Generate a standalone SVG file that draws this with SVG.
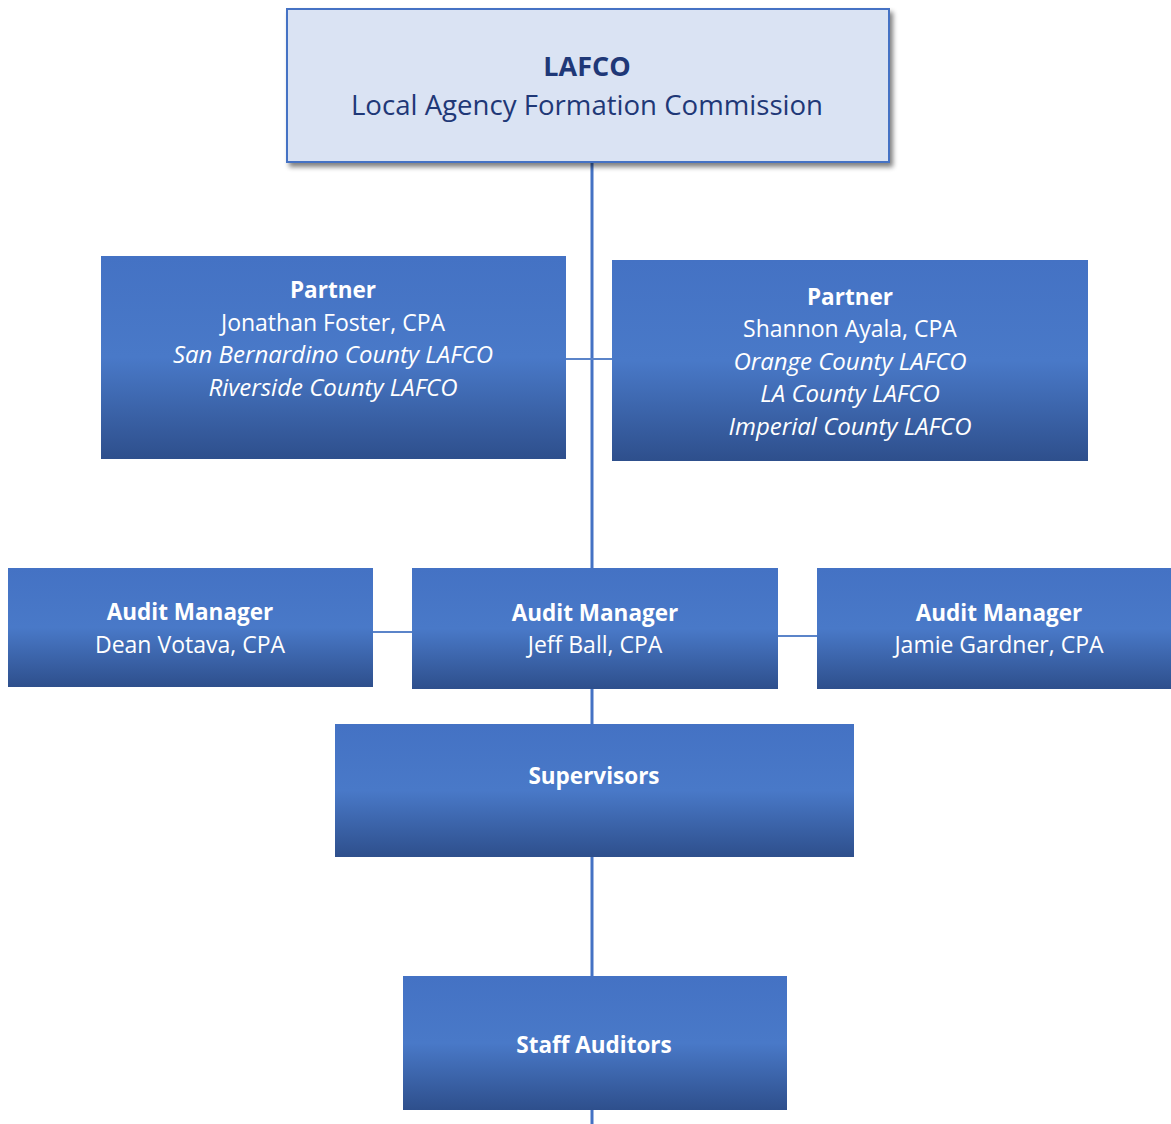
<svg xmlns="http://www.w3.org/2000/svg" width="1171" height="1124" viewBox="0 0 1171 1124">
<defs>
<linearGradient id="blueGrad" x1="0" y1="0" x2="0" y2="1">
<stop offset="0" stop-color="#4472c4"/>
<stop offset="0.5" stop-color="#4979c8"/>
<stop offset="1" stop-color="#2e4f8c"/>
</linearGradient>
<filter id="shadow" x="-5%" y="-10%" width="115%" height="130%">
<feGaussianBlur in="SourceAlpha" stdDeviation="2.5"/>
<feOffset dx="3" dy="4" result="b"/>
<feComponentTransfer><feFuncA type="linear" slope="0.5"/></feComponentTransfer>
<feMerge><feMergeNode/><feMergeNode in="SourceGraphic"/></feMerge>
</filter>
</defs>
<style>
.conn{stroke:#4472c4;stroke-width:3;fill:none}
.conn2{stroke:#5b84c9;stroke-width:2;fill:none}
.box{fill:url(#blueGrad)}
text{font-family:"Open Sans","Noto Sans",sans-serif;text-anchor:middle;fill:#ffffff;font-size:23px}
.b{font-weight:bold;font-size:22.5px}
.i{font-style:italic;font-size:24px}
.top{fill:#1f3877}
</style>
<rect width="1171" height="1124" fill="#ffffff"/>
<g id="connectors">
<line class="conn" x1="592" y1="162" x2="592" y2="1124"/>
<line class="conn2" x1="566" y1="359" x2="612" y2="359"/>
<line class="conn2" x1="373" y1="632" x2="412" y2="632"/>
<line class="conn2" x1="778" y1="636" x2="817" y2="636"/>
</g>
<g id="lafco">
<rect x="287" y="9" width="602" height="153" fill="#dae3f3" stroke="#4472c4" stroke-width="2" filter="url(#shadow)"/>
<text class="top b" x="587" y="76" style="font-size:27px">LAFCO</text>
<text class="top" x="587" y="115" style="font-size:27.6px">Local Agency Formation Commission</text>
</g>
<g id="partner1">
<rect class="box" x="101" y="256" width="465" height="203"/>
<text class="b" x="333" y="298">Partner</text>
<text x="333" y="331">Jonathan Foster, CPA</text>
<text class="i" x="333" y="363">San Bernardino County LAFCO</text>
<text class="i" x="333" y="396">Riverside County LAFCO</text>
</g>
<g id="partner2">
<rect class="box" x="612" y="260" width="476" height="201"/>
<text class="b" x="850" y="305">Partner</text>
<text x="850" y="337">Shannon Ayala, CPA</text>
<text class="i" x="850" y="370">Orange County LAFCO</text>
<text class="i" x="850" y="402">LA County LAFCO</text>
<text class="i" x="850" y="435">Imperial County LAFCO</text>
</g>
<g id="am-dean">
<rect class="box" x="8" y="568" width="365" height="119"/>
<text class="b" x="190" y="620">Audit Manager</text>
<text x="190" y="653">Dean Votava, CPA</text>
</g>
<g id="am-jeff">
<rect class="box" x="412" y="568" width="366" height="121"/>
<text class="b" x="595" y="621">Audit Manager</text>
<text x="595" y="653">Jeff Ball, CPA</text>
</g>
<g id="am-jamie">
<rect class="box" x="817" y="568" width="354" height="121"/>
<text class="b" x="999" y="621">Audit Manager</text>
<text x="999" y="653">Jamie Gardner, CPA</text>
</g>
<g id="supervisors">
<rect class="box" x="335" y="724" width="519" height="133"/>
<text class="b" x="594" y="784">Supervisors</text>
</g>
<g id="staff">
<rect class="box" x="403" y="976" width="384" height="134"/>
<text class="b" x="594" y="1053">Staff Auditors</text>
</g>
</svg>
